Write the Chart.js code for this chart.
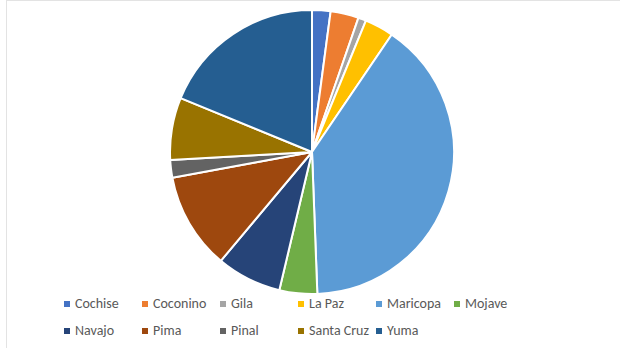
<!DOCTYPE html>
<html>
<head>
<meta charset="utf-8">
<script src="https://cdn.jsdelivr.net/npm/chart.js@4/dist/chart.umd.min.js"></script>
<style>
    html, body { margin: 0; padding: 0; background: #fff; }
    #frame {
        position: absolute; left: 6px; top: 0; width: 614px; height: 348px;
        border-left: 1px solid #e3e3e3; border-top: 1px solid #e3e3e3;
        box-sizing: border-box;
    }
    #pieWrap { position: absolute; left: 169px; top: 9px; width: 286px; height: 286px; }
    .legend-item {
        position: absolute; font-family: Carlito, Lato, sans-serif; font-size: 14px;
        color: #595959; white-space: nowrap; line-height: 16px;
    }
    .legend-item span.box {
        display: inline-block; width: 6px; height: 6px; margin-right: 5px;
        vertical-align: middle; position: relative; top: -1px;
    }
</style>
</head>
<body>
<div id="frame"></div>
<div id="pieWrap"><canvas id="pieChart"></canvas></div>
<div id="legend"></div>
<script>
// Data
const counties = ['Cochise', 'Coconino', 'Gila', 'La Paz', 'Maricopa', 'Mojave',
                  'Navajo', 'Pima', 'Pinal', 'Santa Cruz', 'Yuma'];
const shares = [2.1, 3.2, 0.9, 3.3, 39.9, 4.3, 7.4, 11.0, 2.0, 7.1, 18.8];
const sliceColors = ['#4472C4', '#ED7D31', '#A5A5A5', '#FFC000', '#5B9BD5', '#70AD47',
                     '#264478', '#9E480E', '#636363', '#997300', '#255E91'];

document.addEventListener('DOMContentLoaded', () => {
    const ctx = document.getElementById('pieChart');

    new Chart(ctx, {
        type: 'pie',
        data: {
            labels: counties,
            datasets: [{
                data: shares,
                backgroundColor: sliceColors,
                borderColor: '#ffffff',
                borderWidth: 2
            }]
        },
        options: {
            responsive: true,
            maintainAspectRatio: false,
            animation: false,
            layout: { padding: 0 },
            plugins: {
                legend: { display: false },
                tooltip: { enabled: false }
            }
        }
    });

    // Legend laid out as a grid, 6 per row
    const legend = document.getElementById('legend');
    counties.forEach((name, i) => {
        const col = i % 6;
        const row = Math.floor(i / 6);
        const item = document.createElement('div');
        item.className = 'legend-item';
        item.style.left = (64 + col * 78) + 'px';
        item.style.top = (296 + row * 27) + 'px';
        item.innerHTML = `<span class="box" style="background:${sliceColors[i]}"></span>${name}`;
        legend.appendChild(item);
    });
});
</script>
</body>
</html>
